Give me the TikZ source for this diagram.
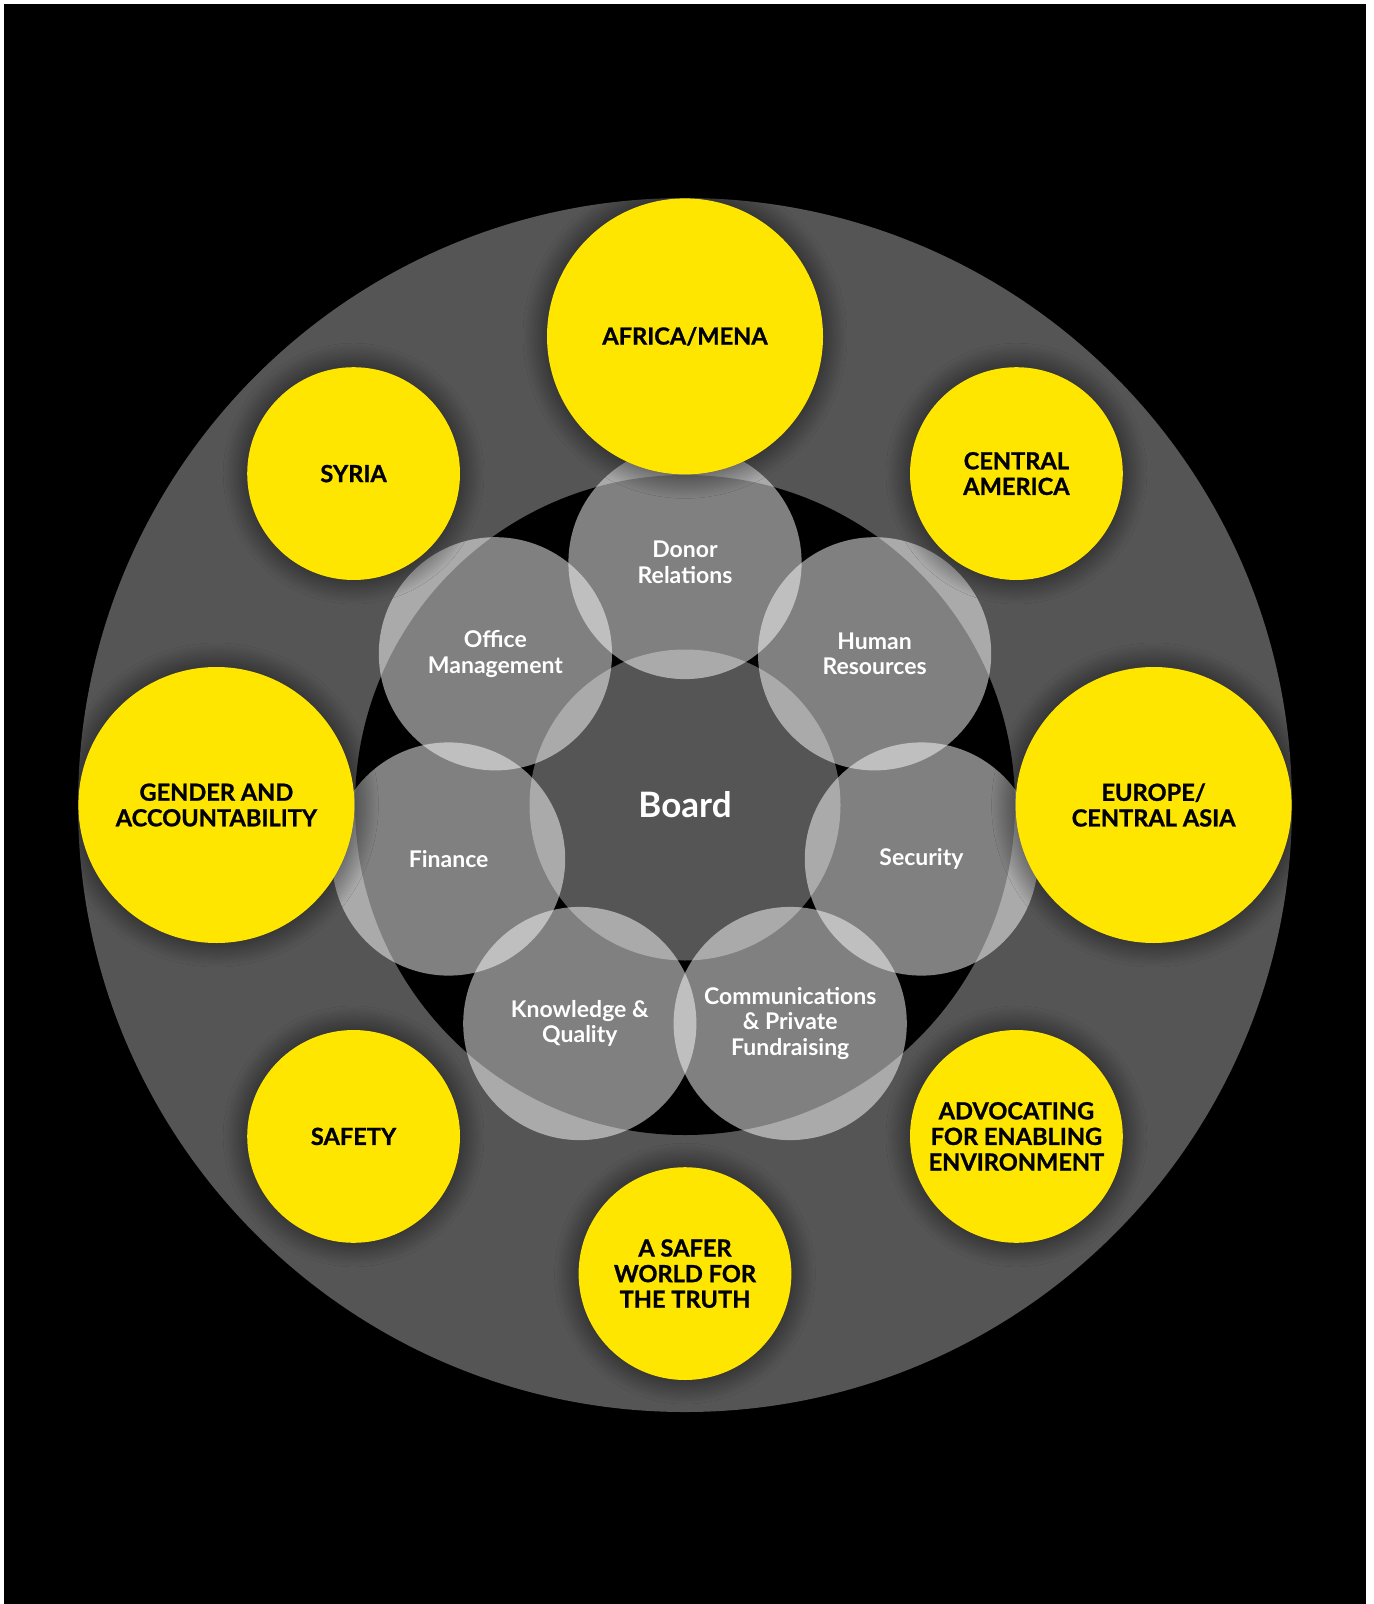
\documentclass[tikz,border=0pt]{standalone}
\usepackage{fontspec}
\setmainfont{Lato}
\newfontfamily\heavyfont[BoldFeatures={FakeBold=1}]{Lato}
\usetikzlibrary{shadows.blur}
\definecolor{Yellow}{HTML}{FFE600}
\definecolor{Slate}{HTML}{555555}

\begin{document}
\begin{tikzpicture}
[
x=0.5pt, y=-0.5pt,
Frame/.style={fill=white, draw=none},
Backdrop/.style={fill=black, draw=none},
Ring/.style={circle, fill=Slate, draw=none, inner sep=0pt, minimum size=607pt},
Hole/.style={circle, fill=black, draw=none, inner sep=0pt, minimum size=330pt},
Board/.style={circle, fill=Slate, draw=none, inner sep=0pt, minimum size=155.5pt, text=white, font=\fontsize{17.5}{20}\selectfont\bfseries},
Unit/.style={circle, fill=white, fill opacity=0.5, text opacity=1, text=white, draw=none, inner sep=0pt, minimum size=116.6pt, align=center, font=\fontsize{11.5}{12.8}\selectfont\bfseries},
Region/.style={circle, fill=Yellow, draw=none, text=black, inner sep=0pt, align=center, font=\fontsize{11.8}{12.8}\selectfont\heavyfont\bfseries,
  blur shadow={shadow xshift=0pt, shadow yshift=0pt, shadow blur radius=12pt, shadow blur steps=24, shadow opacity=70}},
Big/.style={Region, minimum size=138pt},
Small/.style={Region, minimum size=106.4pt}
]

\path[Frame] (0,0) rectangle (1374,1604);
\path[Backdrop] (4,4) rectangle (1366,1604);

\node[Ring] (ring) at (685,805) {};
\node[Hole] (hole) at (685,805) {};

\node[Board] (board) at (685,805) {Board};

% departments
\node[Unit] (donor)     at (685,562.5)    {Donor\\Relations};
\node[Unit] (office)    at (495.4,653.8)  {Office\\Management};
\node[Unit] (finance)   at (448.6,859.0)  {Finance};
\node[Unit] (knowledge) at (579.8,1023.5) {Knowledge \&\\Quality};
\node[Unit] (comms)     at (790.2,1023.5) {Communications\\\& Private\\Fundraising};
\node[Unit] (security)  at (921.4,859.0)  {Security};
\node[Unit] (hr)        at (874.6,653.8)  {Human\\Resources};

% programmes
\node[Big]   (africa)   at (685,336.4)    {AFRICA/MENA};
\node[Small] (syria)    at (353.6,473.6)  {SYRIA};
\node[Small] (camerica) at (1016.4,473.6) {CENTRAL\\AMERICA};
\node[Big]   (gender)   at (216.4,805)    {GENDER AND\\ACCOUNTABILITY};
\node[Big]   (europe)   at (1153.6,805)   {EUROPE/\\CENTRAL ASIA};
\node[Small] (safety)   at (353.6,1136.4) {SAFETY};
\node[Small] (advocacy) at (1016.4,1136.4){ADVOCATING\\FOR ENABLING\\ENVIRONMENT};
\node[Small] (world)    at (685,1273.6)   {A SAFER\\WORLD FOR\\THE TRUTH};
\end{tikzpicture}
\end{document}
